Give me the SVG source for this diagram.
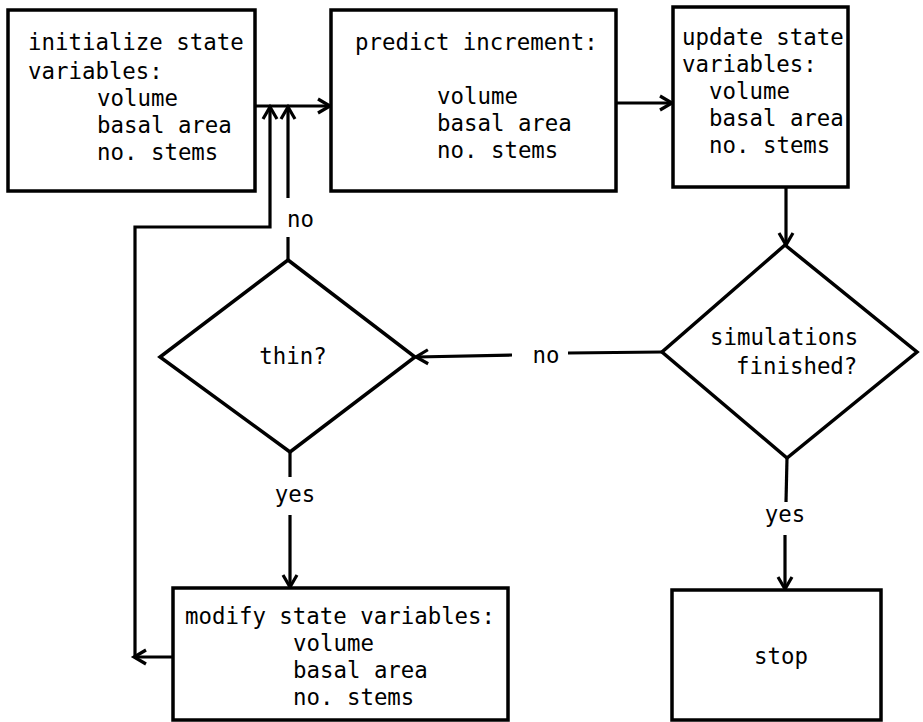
<svg xmlns="http://www.w3.org/2000/svg" width="923" height="722" viewBox="0 0 923 722">
<style>
.box{fill:#fff;stroke:#000;stroke-width:3.5;stroke-linejoin:miter}
.t{font-family:"DejaVu Sans Mono","Liberation Mono",monospace;font-size:22.4px;fill:#000}
.c{fill:none;stroke:#000;stroke-width:3.2}
.m{text-anchor:middle}
</style>
<defs>
<marker id="ah" markerUnits="userSpaceOnUse" markerWidth="18" markerHeight="18" refX="13" refY="8" orient="auto" overflow="visible">
<path d="M1,1 L13,8 L1,15" fill="none" stroke="#000" stroke-width="3.2" stroke-linejoin="miter"/>
</marker>
</defs>
<rect width="923" height="722" fill="#fff"/>
<g id="connectors">
<path class="c" d="M255,106 L330,106" marker-end="url(#ah)"/>
<path class="c" d="M616,103 L672,103" marker-end="url(#ah)"/>
<path class="c" d="M786,187 L786,245" marker-end="url(#ah)"/>
<path class="c" d="M662,352 L568,353"/>
<path class="c" d="M512,355 L416,357" marker-end="url(#ah)"/>
<path class="c" d="M288,260 L288,237"/>
<path class="c" d="M288,198 L288,107" marker-end="url(#ah)"/>
<path class="c" d="M290,452 L290,477"/>
<path class="c" d="M290,515 L290,587" marker-end="url(#ah)"/>
<path class="c" d="M787,458 L786,502"/>
<path class="c" d="M785,535 L785,589" marker-end="url(#ah)"/>
<path class="c" d="M173,657 L134,657" marker-end="url(#ah)"/>
<path class="c" d="M135,657 L135,227 L270,227 L270,107" marker-end="url(#ah)"/>
<text class="t" x="287" y="227">no</text>
<text class="t m" x="546" y="363">no</text>
<text class="t m" x="295" y="502">yes</text>
<text class="t m" x="785" y="522">yes</text>
</g>
<g id="init">
<rect class="box" x="8" y="10" width="247" height="181"/>
<text class="t" x="28" y="50">initialize state</text>
<text class="t" x="28" y="79">variables:</text>
<text class="t" x="97" y="106">volume</text>
<text class="t" x="97" y="133">basal area</text>
<text class="t" x="97" y="160">no. stems</text>
</g>
<g id="predict">
<rect class="box" x="331" y="10" width="285" height="181"/>
<text class="t" x="355" y="50">predict increment:</text>
<text class="t" x="437" y="104">volume</text>
<text class="t" x="437" y="131">basal area</text>
<text class="t" x="437" y="158">no. stems</text>
</g>
<g id="update">
<rect class="box" x="673" y="7" width="175" height="180"/>
<text class="t" x="682" y="45">update state</text>
<text class="t" x="682" y="72">variables:</text>
<text class="t" x="709" y="99">volume</text>
<text class="t" x="709" y="126">basal area</text>
<text class="t" x="709" y="153">no. stems</text>
</g>
<g id="simulations">
<polygon class="box" points="785,245 917,352 787,458 662,352"/>
<text class="t" x="710" y="345">simulations</text>
<text class="t" x="736" y="374">finished?</text>
</g>
<g id="thin">
<polygon class="box" points="288,260 415,357 290,452 160,357"/>
<text class="t m" x="293" y="364">thin?</text>
</g>
<g id="modify">
<rect class="box" x="173" y="588" width="335" height="132"/>
<text class="t" x="185" y="624">modify state variables:</text>
<text class="t" x="293" y="651">volume</text>
<text class="t" x="293" y="678">basal area</text>
<text class="t" x="293" y="705">no. stems</text>
</g>
<g id="stop">
<rect class="box" x="672" y="590" width="209" height="130"/>
<text class="t m" x="781" y="664">stop</text>
</g>
</svg>
